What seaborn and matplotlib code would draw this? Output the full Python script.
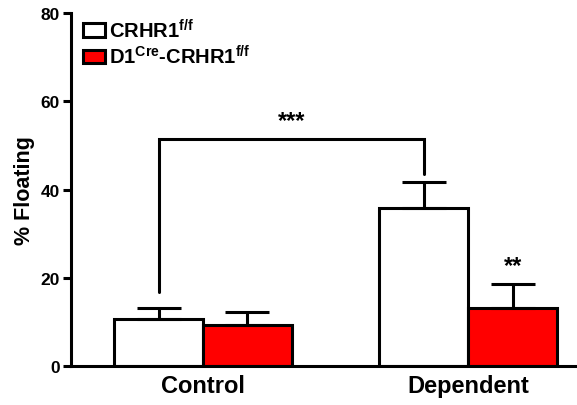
import matplotlib
matplotlib.use("Agg")
import matplotlib.pyplot as plt
import seaborn as sns
import pandas as pd

groups = ["Control", "Control", "Dependent", "Dependent"]
genotypes = ["CRHR1$^{\\mathbf{f/f}}$", "D1$^{\\mathbf{Cre}}$-CRHR1$^{\\mathbf{f/f}}$",
             "CRHR1$^{\\mathbf{f/f}}$", "D1$^{\\mathbf{Cre}}$-CRHR1$^{\\mathbf{f/f}}$"]
means = [10.7, 9.3, 35.9, 13.2]
sems = [2.5, 3.0, 5.9, 5.4]
yticks = [0, 20, 40, 60, 80]

sns.set_style("ticks")
plt.rcParams["font.family"] = ["Liberation Sans", "DejaVu Sans"]
plt.rcParams["font.weight"] = "bold"
plt.rcParams["text.color"] = "black"
plt.rcParams["axes.labelcolor"] = "black"
plt.rcParams["xtick.color"] = "black"
plt.rcParams["ytick.color"] = "black"
plt.rcParams["axes.edgecolor"] = "black"
plt.rcParams["mathtext.fontset"] = "custom"
plt.rcParams["mathtext.rm"] = "Liberation Sans:bold"
plt.rcParams["mathtext.bf"] = "Liberation Sans:bold"
plt.rcParams["mathtext.it"] = "Liberation Sans:bold"

df = pd.DataFrame({"group": groups, "genotype": genotypes, "value": means, "sem": sems})

fig = plt.figure(figsize=(5.77, 4.06), dpi=100)
ax = fig.add_axes([0.123, 0.096, 0.877, 0.8695])

hue_order = [genotypes[0], genotypes[1]]
sns.barplot(data=df, x="group", y="value", hue="genotype", hue_order=hue_order,
            palette=["white", "#ff0000"], saturation=1, edgecolor="black", linewidth=2.2,
            width=0.67, errorbar=None, ax=ax)

# error bars (upward only), positioned from the drawn bars
bars = [p for p in ax.patches if p.get_height() > 0][:4]
order = {}
for p in bars:
    xc = p.get_x() + p.get_width() / 2
    for i in range(len(df)):
        if abs(p.get_height() - df["value"][i]) < 1e-9:
            order[i] = xc
for i in range(len(df)):
    ax.errorbar(order[i], df["value"][i], yerr=[[0], [df["sem"][i]]], fmt="none",
                ecolor="black", elinewidth=2.2, capsize=16, capthick=2.2, zorder=3)

# significance bracket
xl = order[0]
xr = order[2]
ax.plot([xl, xl, xr, xr], [16.8, 51.5, 51.5, 43.6], color="black", lw=2.2,
        solid_joinstyle="miter", clip_on=False)
ax.text((xl + xr) / 2, 53, "***", ha="center", va="bottom", fontsize=17, fontweight="bold")
ax.text(order[3], df["value"][3] + df["sem"][3] + 1.5, "**", ha="center", va="bottom",
        fontsize=17, fontweight="bold")

ax.set_xlim(-0.498, 1.41)
ax.set_ylim(0, 80)
ax.set_yticks(yticks)
ax.set_yticklabels([str(t) for t in yticks], fontsize=12.5, fontweight="bold")
ax.set_xlabel("")
ax.set_ylabel("% Floating", fontsize=15.5, fontweight="bold", labelpad=4)
for lab in ax.get_xticklabels():
    lab.set_fontsize(17)
    lab.set_fontweight("bold")
ax.tick_params(axis="x", length=0, pad=6)
ax.tick_params(axis="y", length=6, width=2.2, pad=2, colors="black")
sns.despine(ax=ax)
ax.spines["left"].set_linewidth(2.2)
ax.spines["bottom"].set_linewidth(2.2)

handles, labels = ax.get_legend_handles_labels()
ax.legend(handles, labels, loc="upper left", bbox_to_anchor=(0.0, 1.02), frameon=False,
          prop={"size": 14.5, "weight": "bold"}, handlelength=1.1, handleheight=0.65,
          handletextpad=0.2, labelspacing=0.15, borderaxespad=0.2)

fig.savefig("out.png", dpi=100)
